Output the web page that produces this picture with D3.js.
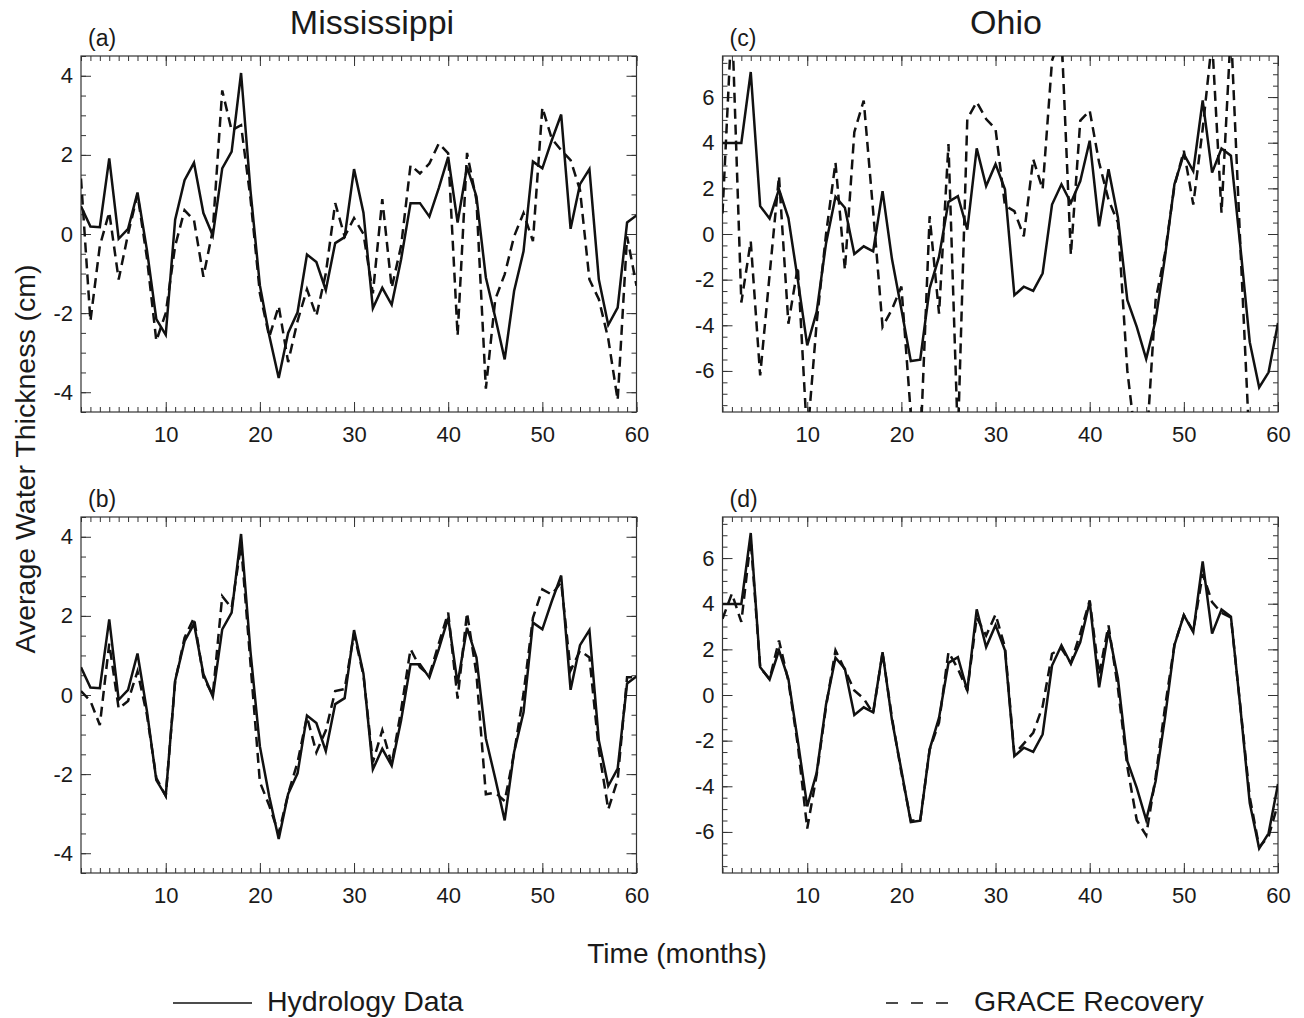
<!DOCTYPE html>
<html>
<head>
<meta charset="utf-8">
<script src="https://cdn.jsdelivr.net/npm/d3@7"></script>
<style>
  body { margin: 0; background: #fff; }
  text { font-family: "Liberation Sans", Arial, Helvetica, sans-serif; fill: #1a1a1a; }
</style>
</head>
<body>
<div id="chart"></div>
<script>

///// Data (cm, months 1..60)

let months = d3.range(1, 61);

// Mississippi hydrology data (same series in (a) and (b))
let missHydro = [0.70, 0.19, 0.17, 1.91, -0.12, 0.13, 1.05, -0.40, -2.15, -2.55,
    0.36, 1.36, 1.80, 0.53, -0.04, 1.66, 2.08, 4.07, 1.10, -1.30,
    -2.57, -3.64, -2.50, -1.98, -0.52, -0.71, -1.42, -0.23, -0.08, 1.64,
    0.54, -1.88, -1.36, -1.79, -0.64, 0.78, 0.78, 0.44, 1.16, 1.95,
    0.29, 1.70, 0.95, -1.10, -2.11, -3.17, -1.44, -0.44, 1.83, 1.66,
    2.37, 3.02, 0.13, 1.26, 1.64, -1.15, -2.30, -1.86, 0.29, 0.47];

// Mississippi GRACE recovery, panel (a)
let missGraceA = [1.40, -2.20, -0.30, 0.55, -1.15, 0.00, 1.00, -0.60, -2.70, -2.00,
    -0.30, 0.60, 0.35, -1.08, 0.10, 3.63, 2.62, 2.75, 0.90, -1.50,
    -2.60, -1.82, -3.24, -2.20, -1.40, -2.07, -1.00, 0.78, -0.06, 0.40,
    0.00, -1.50, 0.88, -1.36, -0.30, 1.74, 1.53, 1.78, 2.29, 2.04,
    -2.57, 2.05, 0.86, -3.91, -1.65, -1.02, -0.06, 0.53, -0.18, 3.20,
    2.41, 2.12, 1.87, 1.11, -1.15, -1.65, -2.65, -4.20, -0.06, -1.31];

// Mississippi GRACE recovery, panel (b)
let missGraceB = [0.10, -0.15, -0.76, 1.30, -0.34, -0.15, 0.60, -0.50, -2.10, -2.55,
    0.35, 1.45, 1.95, 0.45, 0.00, 2.50, 2.20, 3.80, 0.80, -2.20,
    -2.80, -3.50, -2.50, -1.70, -0.55, -1.45, -0.90, 0.10, 0.15, 1.55,
    0.50, -1.70, -0.89, -1.75, -0.38, 1.16, 0.70, 0.50, 1.30, 2.08,
    -0.09, 2.08, 0.53, -2.51, -2.47, -2.68, -1.47, 0.03, 1.95, 2.67,
    2.54, 2.85, 0.62, 1.12, 0.95, -1.39, -2.89, -2.14, 0.45, 0.45];

// Ohio hydrology data (same series in (c) and (d))
let ohioHydro = [3.99, 3.99, 3.99, 7.10, 1.22, 0.68, 1.96, 0.70, -2.01, -4.88,
    -3.41, -0.40, 1.63, 1.15, -0.88, -0.54, -0.76, 1.88, -1.10, -3.30,
    -5.57, -5.51, -2.38, -0.99, 1.41, 1.66, 0.19, 3.75, 2.10, 3.06,
    1.96, -2.68, -2.31, -2.49, -1.72, 1.29, 2.18, 1.37, 2.32, 4.09,
    0.34, 2.84, 0.71, -2.90, -4.07, -5.47, -3.78, -0.99, 2.18, 3.50,
    2.76, 5.85, 2.69, 3.75, 3.43, -0.54, -4.74, -6.72, -6.06, -3.90];

// Ohio GRACE recovery, panel (c) (runs off the plot in places)
let ohioGraceC = [0.90, 9.50, -3.00, -0.32, -6.20, -1.80, 2.54, -3.93, -1.43, -9.00,
    -3.90, 0.00, 3.13, -1.57, 4.46, 5.85, 1.00, -4.07, -3.30, -2.30,
    -7.90, -9.50, 0.78, -3.49, 3.94, -9.00, 5.04, 5.78, 5.04, 4.60,
    1.25, 1.00, -0.10, 3.28, 1.96, 7.60, 8.80, -0.91, 4.97, 5.41,
    3.13, 1.50, 0.50, -6.00, -9.50, -9.50, -2.90, -0.84, 2.10, 3.65,
    1.29, 4.60, 8.50, 0.93, 9.00, -0.50, -9.50, -10.0, -10.0, -9.50];

// Ohio GRACE recovery, panel (d)
let ohioGraceD = [3.34, 4.44, 3.20, 6.80, 1.20, 0.70, 2.39, 0.60, -2.20, -5.85,
    -3.50, -0.50, 1.96, 1.10, 0.20, -0.16, -0.80, 1.85, -1.00, -3.40,
    -5.50, -5.50, -2.40, -1.20, 1.88, 1.15, 0.20, 3.40, 2.60, 3.53,
    2.10, -2.60, -2.13, -1.66, -0.50, 1.81, 2.03, 1.40, 2.70, 4.15,
    0.90, 3.05, 0.30, -3.15, -5.49, -6.15, -3.60, -0.53, 2.20, 3.50,
    2.80, 5.30, 4.07, 3.60, 3.40, -0.50, -4.47, -6.66, -6.20, -4.76];

// tick labels
let xTicks = [10, 20, 30, 40, 50, 60];
let missYTicks = [-4, -2, 0, 2, 4];
let ohioYTicks = [-6, -4, -2, 0, 2, 4, 6];

let titles = ["Mississippi", "Ohio"];
let legendLabels = ["Hydrology Data", "GRACE Recovery"];


///// Layout

let W = 1304, H = 1018,
    pw = 555.5, ph = 356,
    font = "\"Liberation Sans\", Arial, Helvetica, sans-serif";

let panels = [
    { tag: "(a)", left: 81, top: 56, hydro: missHydro, grace: missGraceA, yMax: 4.5, yTicks: missYTicks },
    { tag: "(b)", left: 81, top: 517, hydro: missHydro, grace: missGraceB, yMax: 4.5, yTicks: missYTicks },
    { tag: "(c)", left: 722.5, top: 56, hydro: ohioHydro, grace: ohioGraceC, yMax: 7.8, yTicks: ohioYTicks },
    { tag: "(d)", left: 722.5, top: 517, hydro: ohioHydro, grace: ohioGraceD, yMax: 7.8, yTicks: ohioYTicks }
];

let svg = d3.select("#chart")
    .append("svg")
    .attr("width", W)
    .attr("height", H);

svg.append("rect").attr("width", W).attr("height", H).attr("fill", "#fff");

// plain hyphen for negatives, like the original
let plain = function(d) { return String(d); };


////// Panels

function drawPanel(p, i) {

    let x = d3.scaleLinear().domain([1, 60]).range([0, pw]);
    let y = d3.scaleLinear().domain([-p.yMax, p.yMax]).range([ph, 0]);

    let g = svg.append("g")
        .attr("transform", "translate(" + p.left + "," + p.top + ")");

    let yMinor = d3.range(-Math.floor(p.yMax * 2) / 2, p.yMax + 0.01, 0.5);

    // inward ticks on all four sides, major and minor
    let axes = [
        { gen: d3.axisBottom(x).tickValues(xTicks).tickSize(-10).tickPadding(14).tickFormat(plain), t: [0, ph] },
        { gen: d3.axisBottom(x).tickValues(months).tickSize(-5).tickFormat(""), t: [0, ph] },
        { gen: d3.axisTop(x).tickValues(xTicks).tickSize(-10).tickFormat(""), t: [0, 0] },
        { gen: d3.axisTop(x).tickValues(months).tickSize(-5).tickFormat(""), t: [0, 0] },
        { gen: d3.axisLeft(y).tickValues(p.yTicks).tickSize(-10).tickPadding(8).tickFormat(plain), t: [0, 0] },
        { gen: d3.axisLeft(y).tickValues(yMinor).tickSize(-5).tickFormat(""), t: [0, 0] },
        { gen: d3.axisRight(y).tickValues(p.yTicks).tickSize(-10).tickFormat(""), t: [pw, 0] },
        { gen: d3.axisRight(y).tickValues(yMinor).tickSize(-5).tickFormat(""), t: [pw, 0] }
    ];

    axes.forEach(function(a) {
        let ag = g.append("g")
            .attr("transform", "translate(" + a.t[0] + "," + a.t[1] + ")")
            .call(a.gen.tickSizeOuter(0));
        ag.select(".domain").remove();
        ag.selectAll(".tick line").attr("stroke", "#333").attr("stroke-width", 1);
        ag.selectAll(".tick text")
            .attr("font-family", font)
            .attr("font-size", 22)
            .attr("fill", "#1a1a1a");
    });

    // frame
    g.append("rect")
        .attr("width", pw)
        .attr("height", ph)
        .attr("fill", "none")
        .attr("stroke", "#333")
        .attr("stroke-width", 1.2);

    g.append("clipPath")
        .attr("id", "clip" + i)
        .append("rect")
        .attr("width", pw)
        .attr("height", ph);

    let line = d3.line()
        .x(function(d, j) { return x(months[j]); })
        .y(function(d) { return y(d); });

    let plot = g.append("g").attr("clip-path", "url(#clip" + i + ")");

    plot.append("path")
        .attr("d", line(p.grace))
        .attr("fill", "none")
        .attr("stroke", "#111")
        .attr("stroke-width", 2.5)
        .attr("stroke-dasharray", "10,6");

    plot.append("path")
        .attr("d", line(p.hydro))
        .attr("fill", "none")
        .attr("stroke", "#111")
        .attr("stroke-width", 2.5)
        .attr("stroke-linejoin", "miter");

    // panel letter
    g.append("text")
        .attr("x", 7)
        .attr("y", -10)
        .attr("font-size", 23)
        .text(p.tag);
}

panels.forEach(drawPanel);


////// Titles and labels

svg.append("text")
    .attr("x", 372).attr("y", 34)
    .attr("text-anchor", "middle")
    .attr("font-size", 34)
    .text(titles[0]);

svg.append("text")
    .attr("x", 1006).attr("y", 34)
    .attr("text-anchor", "middle")
    .attr("font-size", 34)
    .text(titles[1]);

svg.append("text")
    .attr("transform", "translate(35,459) rotate(-90)")
    .attr("text-anchor", "middle")
    .attr("font-size", 28.5)
    .text("Average Water Thickness (cm)");

svg.append("text")
    .attr("x", 677).attr("y", 963)
    .attr("text-anchor", "middle")
    .attr("font-size", 28)
    .text("Time (months)");


////// Legend

svg.append("line")
    .attr("x1", 173).attr("x2", 252)
    .attr("y1", 1003).attr("y2", 1003)
    .attr("stroke", "#111").attr("stroke-width", 1.6);

svg.append("text")
    .attr("x", 267).attr("y", 1011)
    .attr("font-size", 28.5)
    .text(legendLabels[0]);

svg.append("line")
    .attr("x1", 886).attr("x2", 950)
    .attr("y1", 1003).attr("y2", 1003)
    .attr("stroke", "#111").attr("stroke-width", 1.6)
    .attr("stroke-dasharray", "12,13");

svg.append("text")
    .attr("x", 974).attr("y", 1011)
    .attr("font-size", 28.5)
    .text(legendLabels[1]);

</script>
</body>
</html>
